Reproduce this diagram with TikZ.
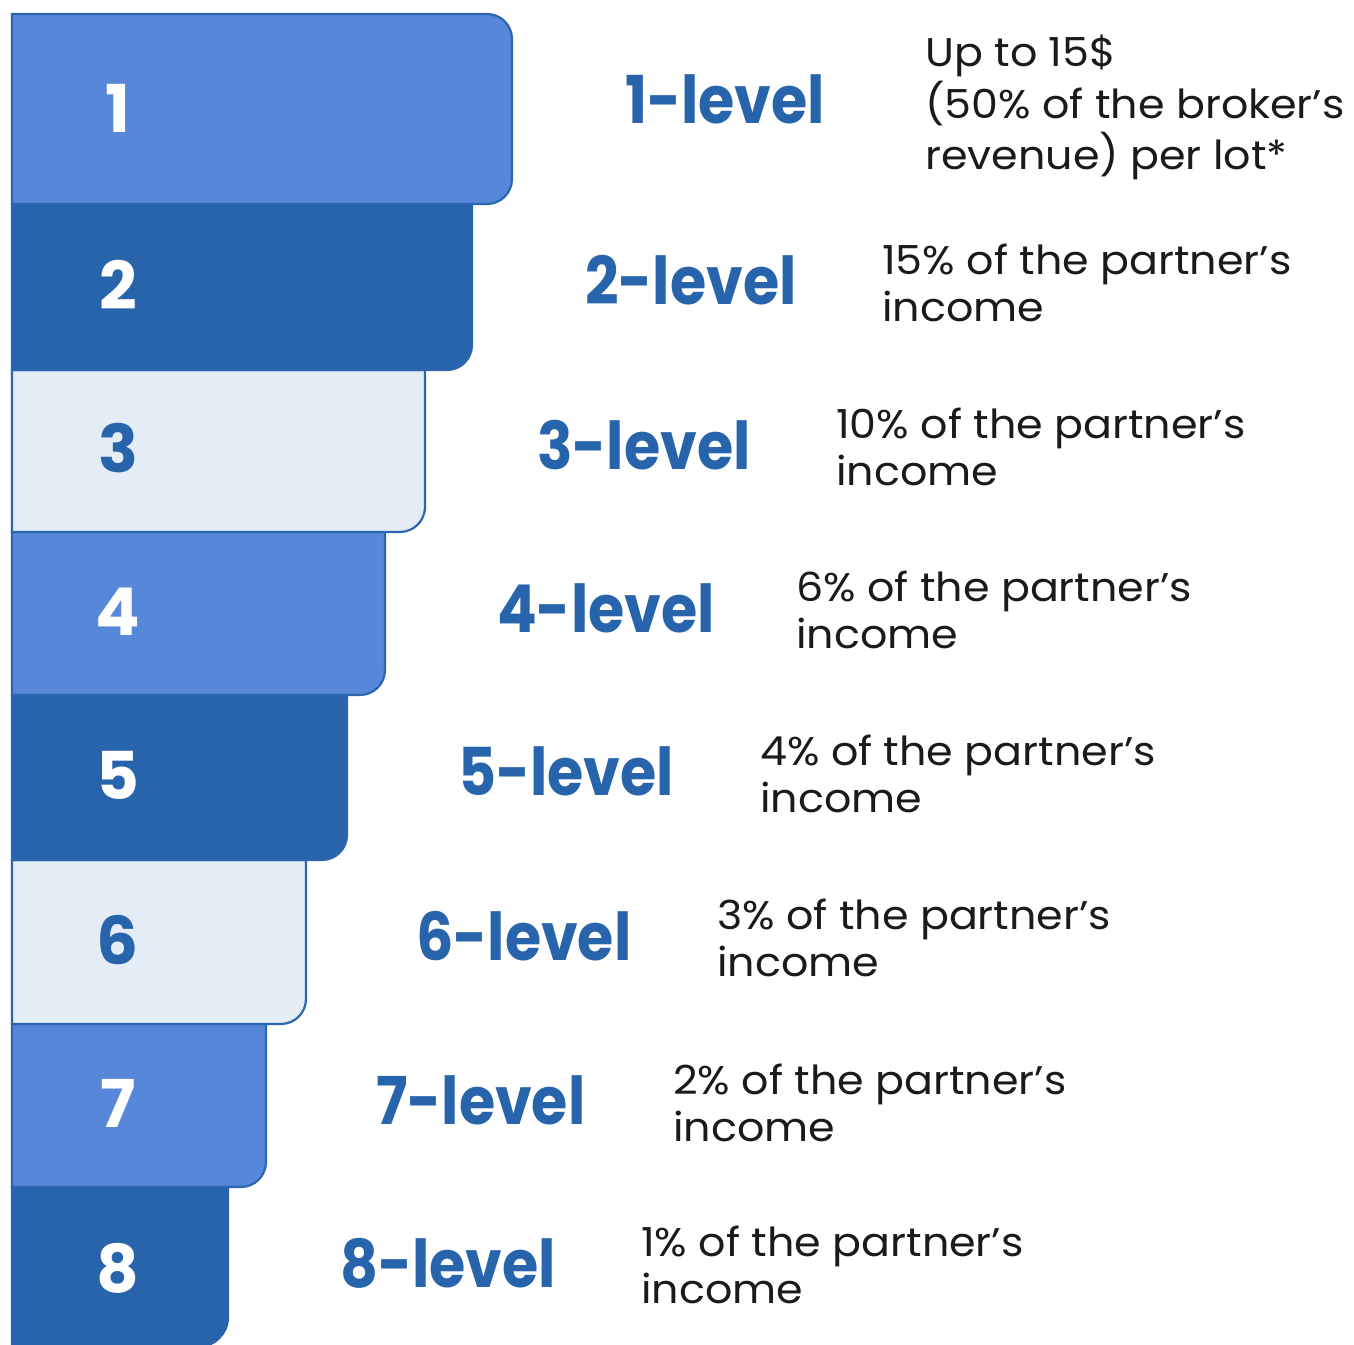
\documentclass[tikz,border=0pt]{standalone}
\usepackage{fontspec}
\setmainfont{Poppins}
\newfontfamily\labelfont[FakeStretch=0.89]{Poppins}
\newfontfamily\descfont[FakeStretch=1.07]{Poppins}
\definecolor{lightbar}{HTML}{5687D9}
\definecolor{darkbar}{HTML}{2864AC}
\definecolor{palebar}{HTML}{E4ECF5}
\definecolor{edgeblue}{HTML}{2C66B0}
\definecolor{labelblue}{HTML}{2864AC}
\definecolor{desctext}{HTML}{1A1A1A}
\newcommand\desclines[1]{\begin{tabular}[t]{@{}l@{}}#1\end{tabular}}
\tikzset{
  barshape/.style={draw=edgeblue, line width=2.2bp},
  numtext/.style={anchor=base, inner sep=0pt, font=\fontsize{66bp}{70bp}\selectfont\bfseries},
  levellabel/.style={anchor=base west, inner sep=0pt, text=labelblue, font=\labelfont\fontsize{66bp}{70bp}\selectfont\bfseries},
  desctextstyle/.style={anchor=base west, inner sep=0pt, text=desctext, font=\descfont\fontsize{40bp}{47bp}\selectfont},
}
\begin{document}
\begin{tikzpicture}[x=1bp,y=1bp]
\useasboundingbox (0,0) rectangle (1354,1345);
\clip (0,0) rectangle (1354,1345);
% bars drawn bottom-up so upper bars cover lower ones
% bar 8
\path[barshape, fill=darkbar, draw=darkbar] (12,-40) -- (12,158) -- (228,158) -- (228,28) arc[start angle=0, end angle=-90, radius=30bp] -- (12,-2) -- cycle;
% bar 7
\path[barshape, fill=lightbar] (12,158) -- (12,321) -- (266,321) -- (266,183) arc[start angle=0, end angle=-90, radius=25bp] -- cycle;
% bar 6
\path[barshape, fill=palebar] (12,321) -- (12,485) -- (306,485) -- (306,346) arc[start angle=0, end angle=-90, radius=25bp] -- cycle;
% bar 5
\path[barshape, fill=darkbar] (12,485) -- (12,650) -- (347,650) -- (347,510) arc[start angle=0, end angle=-90, radius=25bp] -- cycle;
% bar 4
\path[barshape, fill=lightbar] (12,650) -- (12,813) -- (385,813) -- (385,675) arc[start angle=0, end angle=-90, radius=25bp] -- cycle;
% bar 3
\path[barshape, fill=palebar] (12,813) -- (12,975) -- (425,975) -- (425,838) arc[start angle=0, end angle=-90, radius=25bp] -- cycle;
% bar 2
\path[barshape, fill=darkbar] (12,975) -- (12,1141) -- (472,1141) -- (472,1000) arc[start angle=0, end angle=-90, radius=25bp] -- cycle;
% bar 1
\path[barshape, fill=lightbar] (12,1141) -- (12,1331) -- (487,1331) arc[start angle=90, end angle=0, radius=25bp] -- (512,1166) arc[start angle=0, end angle=-90, radius=25bp] -- cycle;

% numbers
\node[numtext, text=white] (n1) at (118,1212) {1};
\node[numtext, text=white] (n2) at (118,1035) {2};
\node[numtext, text=labelblue] (n3) at (118,872) {3};
\node[numtext, text=white] (n4) at (118,709) {4};
\node[numtext, text=white] (n5) at (118,545) {5};
\node[numtext, text=labelblue] (n6) at (118,380) {6};
\node[numtext, text=white] (n7) at (118,217) {7};
\node[numtext, text=white] (n8) at (118,52) {8};

% level labels
\node[levellabel] (l1) at (625,1221) {1-level};
\node[levellabel] (l2) at (585,1040) {2-level};
\node[levellabel] (l3) at (537,875) {3-level};
\node[levellabel] (l4) at (497,712) {4-level};
\node[levellabel] (l5) at (458,549) {5-level};
\node[levellabel] (l6) at (416,384) {6-level};
\node[levellabel] (l7) at (376,220) {7-level};
\node[levellabel] (l8) at (340,57) {8-level};

% descriptions
\node[desctextstyle] (d1) at (925,1278) {\desclines{Up to 15\$\\(50\% of the broker’s\\revenue) per lot*}};
\node[desctextstyle] (d2) at (882,1070) {\desclines{15\% of the partner’s\\income}};
\node[desctextstyle] (d3) at (836,906) {\desclines{10\% of the partner’s\\income}};
\node[desctextstyle] (d4) at (796,743) {\desclines{6\% of the partner’s\\income}};
\node[desctextstyle] (d5) at (760,579) {\desclines{4\% of the partner’s\\income}};
\node[desctextstyle] (d6) at (717,415) {\desclines{3\% of the partner’s\\income}};
\node[desctextstyle] (d7) at (673,250) {\desclines{2\% of the partner’s\\income}};
\node[desctextstyle] (d8) at (641,88) {\desclines{1\% of the partner’s\\income}};
\end{tikzpicture}
\end{document}
